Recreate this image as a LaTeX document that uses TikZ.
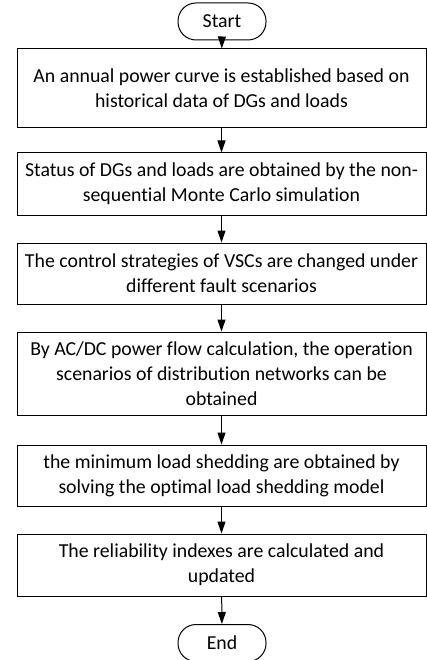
\documentclass[tikz,border=0pt]{standalone}
\usepackage{fontspec}
\setmainfont{Carlito}[Ligatures=NoCommon]
\usepackage{tikz}
\usetikzlibrary{arrows.meta}
\definecolor{ink}{HTML}{000000}
\tikzset{
  stepbox/.style={draw=ink, line width=1pt, minimum width=409pt, align=center,
    inner sep=0pt, font=\fontsize{19.8}{25}\selectfont},
  term/.style={draw=ink, line width=1pt, rounded corners=18pt, minimum width=88pt,
    minimum height=37pt, inner sep=0pt, font=\fontsize{19.8}{25}\selectfont},
  flow/.style={draw=ink, line width=1pt, -{Triangle[length=12pt,width=8pt]}},
}
\begin{document}
\begin{tikzpicture}[x=1pt,y=-1pt]
  \useasboundingbox (0,0) rectangle (427,660);
  % terminals
  \node[term] (start) at (222,21.5) {Start};
  \node[term] (stop) at (222,643) {End};
  % process steps
  \node[stepbox, minimum height=79pt] (s1) at (221.5,88.5)
    {An annual power curve is established based on\\historical data of DGs and loads};
  \node[stepbox, minimum height=62pt] (s2) at (221.5,184)
    {Status of DGs and loads are obtained by the non-\\sequential Monte Carlo simulation};
  \node[stepbox, minimum height=61pt] (s3) at (221.5,273.5)
    {The control strategies of VSCs are changed under\\different fault scenarios};
  \node[stepbox, minimum height=83pt] (s4) at (221.5,373.5)
    {By AC/DC power flow calculation, the operation\\scenarios of distribution networks can be\\obtained};
  \node[stepbox, minimum height=61pt] (s5) at (221.5,475.5)
    {the minimum load shedding are obtained by\\solving the optimal load shedding model};
  \node[stepbox, minimum height=62pt] (s6) at (221.5,565)
    {The reliability indexes are calculated and\\updated};
  % arrows
  \draw[flow] (start) -- (s1);
  \draw[flow] (s1) -- (s2);
  \draw[flow] (s2) -- (s3);
  \draw[flow] (s3) -- (s4);
  \draw[flow] (s4) -- (s5);
  \draw[flow] (s5) -- (s6);
  \draw[flow] (s6) -- (stop);
\end{tikzpicture}
\end{document}
